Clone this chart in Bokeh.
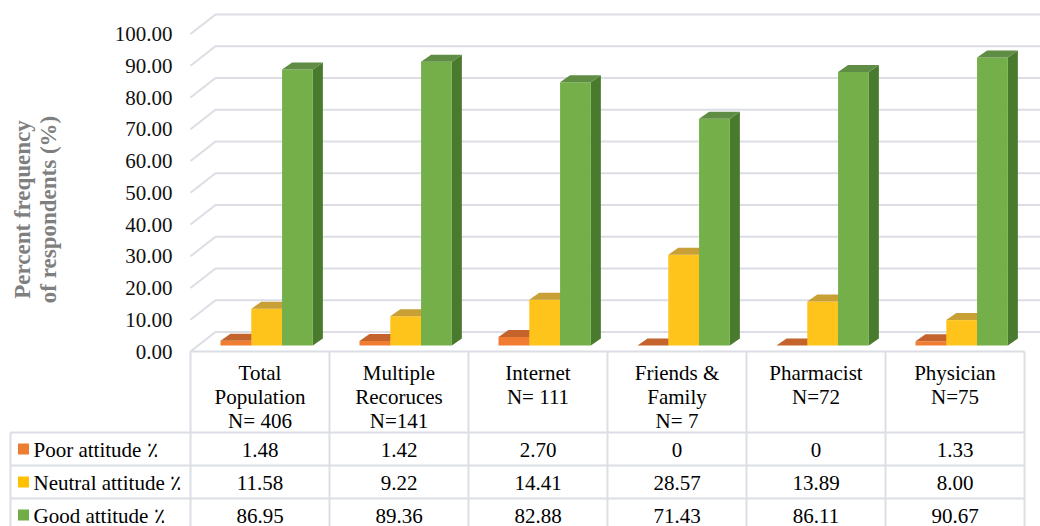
import math
from bokeh.plotting import figure
from bokeh.models import Range1d
from bokeh.embed import file_html
from bokeh.resources import INLINE
from bokeh.core.properties import value

# ---------------- data ----------------
categories = ["Total Population", "Multiple Recoruces", "Internet",
              "Friends & Family", "Pharmacist", "Physician"]
header_lines = [["Total", "Population", "N= 406"],
                ["Multiple", "Recoruces", "N=141"],
                ["Internet", "N= 111"],
                ["Friends &", "Family", "N= 7"],
                ["Pharmacist", "N=72"],
                ["Physician", "N=75"]]
series_names = ["Poor attitude \u066a", "Neutral attitude \u066a", "Good attitude \u066a"]
poor = [1.48, 1.42, 2.70, 0, 0, 1.33]
neutral = [11.58, 9.22, 14.41, 28.57, 13.89, 8.00]
good = [86.95, 89.36, 82.88, 71.43, 86.11, 90.67]
y_ticks = [0, 10, 20, 30, 40, 50, 60, 70, 80, 90, 100]
y_tick_labels = ["%.2f" % t for t in y_ticks]
y_axis_title = ["Percent frequency", "of respondents (%)"]

# ---------------- style / layout ----------------
FONT = "Liberation Serif"
TXT_SIZE = "21px"
front_cols = ["#f07d32", "#ffc41c", "#74af4a"]
top_cols = ["#c4642c", "#c9a036", "#5f8d43"]
side_cols = ["#b85a22", "#c79a10", "#497a2d"]
legend_cols = ["#ed7d31", "#ffc000", "#70ad47"]
GRID_COL = "#dcdde5"
TABLE_COL = "#dcdee6"

W, H = 1040, 526
X0_PX, PX_PER_U = 190.0, 139.0        # column grid (page px)
Y0_PX, PX_PER_V = 351.0, 3.175        # value scale on the front plane
ROW_TOP_PX, ROW_H_PX = 432.0, 33.0    # data table rows
HEAD_MID_PX, HEAD_LINE_PX = 372.0, 24.0
ROW_MID_OFF_PX = 17.0

BAR_START, BAR_W = 0.2158, 0.2215
FD = 6.0 / PX_PER_V                   # bar front face set back into the floor
DDX, DDY = 10.0 / PX_PER_U, 7.0 / PX_PER_V      # bar depth
GDX, GDY = 25.0 / PX_PER_U, 19.5 / PX_PER_V     # floor / wall depth

def u_of(px):
    return (px - X0_PX) / PX_PER_U

def v_of(py):
    return (Y0_PX - py) / PX_PER_V

n = len(categories)
x0 = u_of(0)
x1 = x0 + W / PX_PER_U
y1 = v_of(0)
y0 = y1 - H / PX_PER_V

p = figure(width=W, height=H, x_range=Range1d(x0, x1), y_range=Range1d(y0, y1),
           output_backend="svg", toolbar_location=None, x_axis_location=None,
           y_axis_location=None, min_border=0)
p.outline_line_color = None
p.grid.visible = False
p.background_fill_color = "white"
p.border_fill_color = "white"

# value axis: tick labels placed through the y scale
p.text([u_of(172)] * len(y_ticks), y_ticks, text=y_tick_labels,
       text_font=value(FONT), text_font_size=TXT_SIZE, text_align="right",
       text_baseline="middle", text_color="#111111")
# axis title (two lines, rotated)
p.text([u_of(22), u_of(48)], [v_of(209)] * 2, text=y_axis_title, angle=math.pi / 2,
       text_font=value(FONT), text_font_size="23px", text_font_style="bold",
       text_align="center", text_baseline="middle", text_color="#7f7f7f")

# back-wall gridlines with floor diagonals
gx, gy = [], []
for t in y_ticks:
    gx.append([0.0, GDX, x1 + 0.5])
    gy.append([t, t + GDY, t + GDY])
p.multi_line(gx, gy, line_color=GRID_COL, line_width=2)

# data-table borders
uleft = u_of(10)
tx, ty = [[0.0, float(n)]], [[0.0, 0.0]]
for k in range(n + 1):
    tx.append([float(k), float(k)])
    ty.append([0.0, y0 - 5])
tx.append([uleft, uleft])
ty.append([v_of(ROW_TOP_PX), y0 - 5])
for r in range(len(series_names)):
    yy = v_of(ROW_TOP_PX + r * ROW_H_PX)
    tx.append([uleft, float(n)])
    ty.append([yy, yy])
p.multi_line(tx, ty, line_color=TABLE_COL, line_width=2)

# 3-D bars
for s, vals in enumerate([poor, neutral, good]):
    left = [i + BAR_START + s * BAR_W for i in range(n)]
    right = [l + BAR_W for l in left]
    bottom = [FD] * n
    top = [v + FD for v in vals]
    sx = [[r, r, r + DDX, r + DDX] for r in right]
    sy = [[FD, t, t + DDY, FD + DDY] for t in top]
    p.patches(sx, sy, fill_color=side_cols[s], line_color=None)
    p.quad(left=left, right=right, bottom=bottom, top=top,
           fill_color=front_cols[s], line_color=None)
    fx = [[l, r, r + DDX, l + DDX] for l, r in zip(left, right)]
    fy = [[t, t, t + DDY, t + DDY] for t in top]
    p.patches(fx, fy, fill_color=top_cols[s], line_color=None)

# header text (category labels)
hx, hy, ht = [], [], []
for i, lines in enumerate(header_lines):
    for j, line in enumerate(lines):
        hx.append(i + 0.5)
        hy.append(v_of(HEAD_MID_PX + HEAD_LINE_PX * j))
        ht.append(line)
p.text(hx, hy, text=ht, text_font=value(FONT), text_font_size=TXT_SIZE,
       text_align="center", text_baseline="middle", text_color="#000000")

# data rows
for r, vals in enumerate([poor, neutral, good]):
    labels = ["0" if v == 0 else "%.2f" % v for v in vals]
    ym = v_of(ROW_TOP_PX + r * ROW_H_PX + ROW_MID_OFF_PX)
    p.text([i + 0.5 for i in range(n)], [ym] * n, text=labels,
           text_font=value(FONT), text_font_size=TXT_SIZE, text_align="center",
           text_baseline="middle", text_color="#000000")

p.scatter([u_of(23)] * 3,
          [v_of(ROW_TOP_PX + r * ROW_H_PX + 16.5) for r in range(3)],
          marker="square", size=11, fill_color=legend_cols, line_color=None)
p.text([u_of(33)] * 3,
       [v_of(ROW_TOP_PX + r * ROW_H_PX + ROW_MID_OFF_PX) for r in range(3)],
       text=series_names, text_font=value(FONT), text_font_size=TXT_SIZE,
       text_align="left", text_baseline="middle", text_color="#000000")

open("out.html", "w").write(file_html(p, INLINE))
